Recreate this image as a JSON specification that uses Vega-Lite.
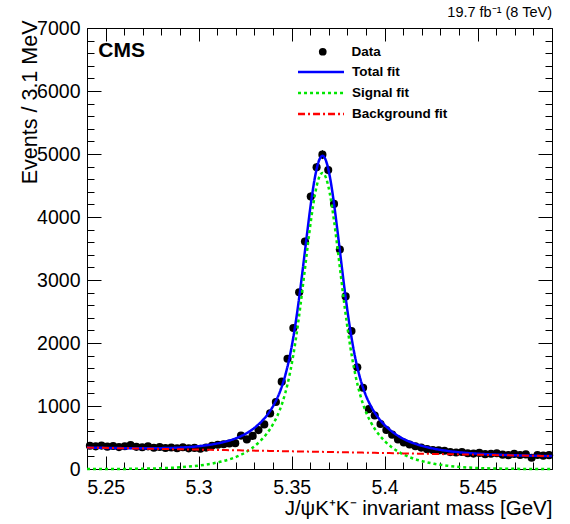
{
  "$schema": "https://vega.github.io/schema/vega-lite/v6.json",
  "width": 465,
  "height": 441,
  "autosize": {"type": "none"},
  "padding": {"left": 87, "top": 28, "right": 18, "bottom": 55},
  "background": "white",
  "title": {"text": "19.7 fb⁻¹ (8 TeV)", "anchor": "end", "frame": "group", "baseline": "alphabetic", "fontSize": 14.5, "fontWeight": "normal", "font": "Liberation Sans", "color": "black", "offset": 7, "dy": 20},
  "datasets": {
    "bins": [
      {"m": 5.24156, "n": 370, "err": 19}, {"m": 5.24469, "n": 360, "err": 19}, {"m": 5.24781, "n": 372, "err": 19}, {"m": 5.25094, "n": 355, "err": 19},
      {"m": 5.25406, "n": 365, "err": 19}, {"m": 5.25719, "n": 348, "err": 19}, {"m": 5.26031, "n": 362, "err": 19}, {"m": 5.26344, "n": 378, "err": 19},
      {"m": 5.26656, "n": 352, "err": 19}, {"m": 5.26969, "n": 345, "err": 19}, {"m": 5.27281, "n": 360, "err": 19}, {"m": 5.27594, "n": 338, "err": 18},
      {"m": 5.27906, "n": 350, "err": 19}, {"m": 5.28219, "n": 334, "err": 18}, {"m": 5.28531, "n": 342, "err": 18}, {"m": 5.28844, "n": 330, "err": 18},
      {"m": 5.29156, "n": 345, "err": 19}, {"m": 5.29469, "n": 328, "err": 18}, {"m": 5.29781, "n": 335, "err": 18}, {"m": 5.30094, "n": 322, "err": 18},
      {"m": 5.30406, "n": 340, "err": 18}, {"m": 5.30719, "n": 370, "err": 19}, {"m": 5.31031, "n": 385, "err": 20}, {"m": 5.31344, "n": 392, "err": 20},
      {"m": 5.31656, "n": 405, "err": 20}, {"m": 5.31969, "n": 410, "err": 20}, {"m": 5.32281, "n": 530, "err": 23}, {"m": 5.32594, "n": 470, "err": 22},
      {"m": 5.32906, "n": 525, "err": 23}, {"m": 5.33219, "n": 618, "err": 25}, {"m": 5.33531, "n": 708, "err": 27}, {"m": 5.33844, "n": 882, "err": 30},
      {"m": 5.34156, "n": 1063, "err": 33}, {"m": 5.34469, "n": 1386, "err": 37}, {"m": 5.34781, "n": 1750, "err": 42}, {"m": 5.35094, "n": 2238, "err": 47},
      {"m": 5.35406, "n": 2804, "err": 53}, {"m": 5.35719, "n": 3611, "err": 60}, {"m": 5.36031, "n": 4324, "err": 66}, {"m": 5.36344, "n": 4789, "err": 69},
      {"m": 5.36656, "n": 4990, "err": 71}, {"m": 5.36969, "n": 4747, "err": 69}, {"m": 5.37281, "n": 4208, "err": 65}, {"m": 5.37594, "n": 3485, "err": 59},
      {"m": 5.37906, "n": 2740, "err": 52}, {"m": 5.38219, "n": 2191, "err": 47}, {"m": 5.38531, "n": 1616, "err": 40}, {"m": 5.38844, "n": 1290, "err": 36},
      {"m": 5.39156, "n": 950, "err": 31}, {"m": 5.39469, "n": 850, "err": 29}, {"m": 5.39781, "n": 715, "err": 27}, {"m": 5.40094, "n": 620, "err": 25},
      {"m": 5.40406, "n": 545, "err": 23}, {"m": 5.40719, "n": 470, "err": 22}, {"m": 5.41031, "n": 420, "err": 20}, {"m": 5.41344, "n": 388, "err": 20},
      {"m": 5.41656, "n": 362, "err": 19}, {"m": 5.41969, "n": 340, "err": 18}, {"m": 5.42281, "n": 315, "err": 18}, {"m": 5.42594, "n": 300, "err": 17},
      {"m": 5.42906, "n": 295, "err": 17}, {"m": 5.43219, "n": 290, "err": 17}, {"m": 5.43531, "n": 268, "err": 16}, {"m": 5.43844, "n": 262, "err": 16},
      {"m": 5.44156, "n": 270, "err": 16}, {"m": 5.44469, "n": 250, "err": 16}, {"m": 5.44781, "n": 245, "err": 16}, {"m": 5.45094, "n": 255, "err": 16},
      {"m": 5.45406, "n": 236, "err": 15}, {"m": 5.45719, "n": 242, "err": 16}, {"m": 5.46031, "n": 250, "err": 16}, {"m": 5.46344, "n": 228, "err": 15},
      {"m": 5.46656, "n": 220, "err": 15}, {"m": 5.46969, "n": 240, "err": 15}, {"m": 5.47281, "n": 222, "err": 15}, {"m": 5.47594, "n": 232, "err": 15},
      {"m": 5.47906, "n": 178, "err": 13}, {"m": 5.48219, "n": 222, "err": 15}, {"m": 5.48531, "n": 212, "err": 15}, {"m": 5.48844, "n": 220, "err": 15}
    ],
    "fits": [
      {"m": 5.24, "signal": 0, "bkg": 340, "total": 340},
      {"m": 5.2566, "signal": 1, "bkg": 331, "total": 332},
      {"m": 5.2716, "signal": 6, "bkg": 323, "total": 329},
      {"m": 5.2816, "signal": 14, "bkg": 317.5, "total": 332},
      {"m": 5.2916, "signal": 30, "bkg": 312, "total": 342},
      {"m": 5.2996, "signal": 53, "bkg": 308, "total": 361},
      {"m": 5.3066, "signal": 83, "bkg": 304, "total": 387},
      {"m": 5.3126, "signal": 121, "bkg": 301, "total": 422},
      {"m": 5.3186, "signal": 174, "bkg": 298, "total": 472},
      {"m": 5.3236, "signal": 238, "bkg": 295, "total": 533},
      {"m": 5.3286, "signal": 329, "bkg": 292, "total": 621},
      {"m": 5.3326, "signal": 428, "bkg": 290, "total": 718},
      {"m": 5.3366, "signal": 559, "bkg": 288, "total": 847},
      {"m": 5.3406, "signal": 742, "bkg": 286, "total": 1028},
      {"m": 5.3436, "signal": 933, "bkg": 284, "total": 1217},
      {"m": 5.3466, "signal": 1206, "bkg": 282, "total": 1488},
      {"m": 5.3486, "signal": 1449, "bkg": 281, "total": 1730},
      {"m": 5.3506, "signal": 1755, "bkg": 280, "total": 2035},
      {"m": 5.3526, "signal": 2126, "bkg": 279, "total": 2405},
      {"m": 5.3546, "signal": 2560, "bkg": 278, "total": 2838},
      {"m": 5.3566, "signal": 3038, "bkg": 277, "total": 3315},
      {"m": 5.3586, "signal": 3528, "bkg": 276, "total": 3804},
      {"m": 5.3606, "signal": 3987, "bkg": 275, "total": 4262},
      {"m": 5.3626, "signal": 4364, "bkg": 274, "total": 4638},
      {"m": 5.3646, "signal": 4613, "bkg": 273, "total": 4886},
      {"m": 5.3666, "signal": 4700, "bkg": 272, "total": 4972},
      {"m": 5.3686, "signal": 4613, "bkg": 271, "total": 4884},
      {"m": 5.3706, "signal": 4364, "bkg": 270, "total": 4634},
      {"m": 5.3726, "signal": 3987, "bkg": 268, "total": 4255},
      {"m": 5.3746, "signal": 3528, "bkg": 267, "total": 3795},
      {"m": 5.3766, "signal": 3038, "bkg": 266, "total": 3304},
      {"m": 5.3786, "signal": 2560, "bkg": 265, "total": 2825},
      {"m": 5.3806, "signal": 2126, "bkg": 264, "total": 2390},
      {"m": 5.3826, "signal": 1755, "bkg": 263, "total": 2018},
      {"m": 5.3846, "signal": 1449, "bkg": 262, "total": 1711},
      {"m": 5.3866, "signal": 1206, "bkg": 261, "total": 1467},
      {"m": 5.3896, "signal": 933, "bkg": 259, "total": 1192},
      {"m": 5.3926, "signal": 742, "bkg": 258, "total": 1000},
      {"m": 5.3966, "signal": 559, "bkg": 255, "total": 814},
      {"m": 5.4006, "signal": 428, "bkg": 253, "total": 681},
      {"m": 5.4046, "signal": 329, "bkg": 251, "total": 580},
      {"m": 5.4096, "signal": 238, "bkg": 248, "total": 486},
      {"m": 5.4146, "signal": 174, "bkg": 246, "total": 420},
      {"m": 5.4206, "signal": 121, "bkg": 242, "total": 363},
      {"m": 5.4266, "signal": 83, "bkg": 239, "total": 322},
      {"m": 5.4336, "signal": 53, "bkg": 235, "total": 288},
      {"m": 5.4416, "signal": 30, "bkg": 231, "total": 261},
      {"m": 5.4516, "signal": 14, "bkg": 226, "total": 240},
      {"m": 5.4616, "signal": 6, "bkg": 220, "total": 226},
      {"m": 5.4766, "signal": 1, "bkg": 212, "total": 213},
      {"m": 5.49, "signal": 0, "bkg": 205, "total": 205}
    ]
  },
  "layer": [
    {
      "data": {"name": "bins"},
      "mark": {"type": "errorbar", "color": "black", "thickness": 1},
      "encoding": {
        "x": {
          "field": "m", "type": "quantitative",
          "scale": {"domain": [5.24, 5.49], "nice": false, "zero": false},
          "axis": {
            "orient": "bottom", "values": [5.25, 5.3, 5.35, 5.4, 5.45], "format": ".2~f",
            "ticks": false, "labelFontSize": 19.5, "labelPadding": 9, "labelFlush": false,
            "title": "J/ψK⁺K⁻ invariant mass [GeV]", "titleFontSize": 20.5, "titleFontWeight": "normal",
            "titleAnchor": "end", "titleAlign": "right", "titlePadding": 2
          }
        },
        "y": {
          "field": "n", "type": "quantitative",
          "scale": {"domain": [0, 7000], "nice": false},
          "axis": {
            "orient": "left", "values": [0, 1000, 2000, 3000, 4000, 5000, 6000, 7000], "format": "d",
            "ticks": false, "labelFontSize": 19.5, "labelPadding": 7, "labelFlush": false,
            "title": "Events / 3.1 MeV", "titleFontSize": 21.5, "titleFontWeight": "normal",
            "titleAngle": -90, "titleAlign": "right", "titleBaseline": "alphabetic",
            "titleX": -51, "titleY": -8
          }
        },
        "yError": {"field": "err"}
      }
    },
    {
      "data": {"name": "bins"},
      "mark": {"type": "point", "filled": true, "color": "black", "opacity": 1, "size": 66},
      "encoding": {
        "x": {
          "field": "m", "type": "quantitative",
          "scale": {"domain": [5.24, 5.49], "nice": false, "zero": false},
          "axis": {
            "orient": "bottom", "labels": false, "title": null, "offset": -13, "tickSize": 13,
            "values": [5.25, 5.3, 5.35, 5.4, 5.45]
          }
        },
        "y": {
          "field": "n", "type": "quantitative",
          "scale": {"domain": [0, 7000], "nice": false},
          "axis": {
            "orient": "left", "labels": false, "title": null, "offset": -14, "tickSize": 14,
            "values": [0, 1000, 2000, 3000, 4000, 5000, 6000, 7000]
          }
        },
        "shape": {
          "datum": "Data",
          "scale": {"domain": ["Data"], "range": ["circle"]},
          "legend": {
            "orient": "none", "legendX": 229, "legendY": 17, "title": null, "padding": 0,
            "symbolSize": 60, "symbolFillColor": "black", "symbolStrokeColor": "black",
            "labelFont": "Liberation Sans", "labelFontWeight": "bold", "labelFontSize": 13.5,
            "labelColor": "black", "labelOffset": 22
          }
        }
      }
    },
    {
      "data": {"name": "fits"},
      "mark": {"type": "line", "strokeWidth": 2.5, "interpolate": "monotone"},
      "encoding": {
        "x": {
          "field": "m", "type": "quantitative",
          "scale": {"domain": [5.24, 5.49], "nice": false, "zero": false},
          "axis": {
            "orient": "top", "labels": false, "title": null, "offset": -13, "tickSize": 13,
            "values": [5.25, 5.3, 5.35, 5.4, 5.45]
          }
        },
        "y": {
          "field": "total", "type": "quantitative",
          "scale": {"domain": [0, 7000], "nice": false},
          "axis": {
            "orient": "right", "labels": false, "title": null, "offset": -14, "tickSize": 14,
            "values": [0, 1000, 2000, 3000, 4000, 5000, 6000, 7000]
          }
        },
        "color": {
          "datum": "Total fit",
          "scale": {"domain": ["Total fit", "Signal fit", "Background fit"], "range": ["#0000ff", "#00e600", "#ff0000"]},
          "legend": {
            "orient": "none", "legendX": 227, "legendY": 37, "title": null, "padding": 0,
            "symbolType": "M-4,0H4", "symbolSize": 132, "symbolStrokeWidth": 2.5, "rowPadding": 7,
            "labelFont": "Liberation Sans", "labelFontWeight": "bold", "labelFontSize": 13.5,
            "labelColor": "black", "labelOffset": 24
          }
        },
        "strokeDash": {
          "datum": "Total fit",
          "scale": {"domain": ["Total fit", "Signal fit", "Background fit"], "range": [[1, 0], [3, 3], [7, 3, 2, 3]]},
          "legend": {
            "orient": "none", "legendX": 227, "legendY": 37, "title": null, "padding": 0,
            "symbolType": "M-4,0H4", "symbolSize": 132, "symbolStrokeWidth": 2.5, "rowPadding": 7,
            "labelFont": "Liberation Sans", "labelFontWeight": "bold", "labelFontSize": 13.5,
            "labelColor": "black", "labelOffset": 24
          }
        }
      }
    },
    {
      "data": {"name": "fits"},
      "mark": {"type": "line", "strokeWidth": 2.5, "interpolate": "monotone"},
      "encoding": {
        "x": {
          "field": "m", "type": "quantitative",
          "axis": {
            "orient": "bottom", "labels": false, "title": null, "offset": -7, "tickSize": 7,
            "values": [5.24, 5.26, 5.27, 5.28, 5.29, 5.31, 5.32, 5.33, 5.34, 5.36, 5.37, 5.38, 5.39, 5.41, 5.42, 5.43, 5.44, 5.46, 5.47, 5.48, 5.49]
          }
        },
        "y": {
          "field": "signal", "type": "quantitative",
          "axis": {
            "orient": "left", "labels": false, "title": null, "offset": -7, "tickSize": 7,
            "values": [200, 400, 600, 800, 1200, 1400, 1600, 1800, 2200, 2400, 2600, 2800, 3200, 3400, 3600, 3800, 4200, 4400, 4600, 4800, 5200, 5400, 5600, 5800, 6200, 6400, 6600, 6800]
          }
        },
        "color": {"datum": "Signal fit"},
        "strokeDash": {"datum": "Signal fit"}
      }
    },
    {
      "data": {"name": "fits"},
      "mark": {"type": "line", "strokeWidth": 2, "interpolate": "monotone"},
      "encoding": {
        "x": {
          "field": "m", "type": "quantitative",
          "axis": {
            "orient": "top", "labels": false, "title": null, "offset": -7, "tickSize": 7,
            "values": [5.24, 5.26, 5.27, 5.28, 5.29, 5.31, 5.32, 5.33, 5.34, 5.36, 5.37, 5.38, 5.39, 5.41, 5.42, 5.43, 5.44, 5.46, 5.47, 5.48, 5.49]
          }
        },
        "y": {
          "field": "bkg", "type": "quantitative",
          "axis": {
            "orient": "right", "labels": false, "title": null, "offset": -7, "tickSize": 7,
            "values": [200, 400, 600, 800, 1200, 1400, 1600, 1800, 2200, 2400, 2600, 2800, 3200, 3400, 3600, 3800, 4200, 4400, 4600, 4800, 5200, 5400, 5600, 5800, 6200, 6400, 6600, 6800]
          }
        },
        "color": {"datum": "Background fit"},
        "strokeDash": {"datum": "Background fit"}
      }
    },
    {
      "data": {"values": [{"label": "CMS"}]},
      "mark": {"type": "text", "align": "left", "baseline": "alphabetic", "font": "Liberation Sans", "fontWeight": "bold", "fontSize": 21, "color": "black"},
      "encoding": {
        "x": {"datum": 5.2461, "type": "quantitative", "axis": null},
        "y": {"datum": 6540, "type": "quantitative", "axis": null},
        "text": {"field": "label"}
      }
    }
  ],
  "resolve": {"axis": {"x": "independent", "y": "independent"}},
  "config": {
    "view": {"stroke": "black", "strokeWidth": 1},
    "axis": {
      "domain": false, "grid": false,
      "labelFont": "Liberation Sans", "titleFont": "Liberation Sans",
      "labelColor": "black", "titleColor": "black",
      "tickColor": "black", "tickWidth": 1
    }
  }
}
